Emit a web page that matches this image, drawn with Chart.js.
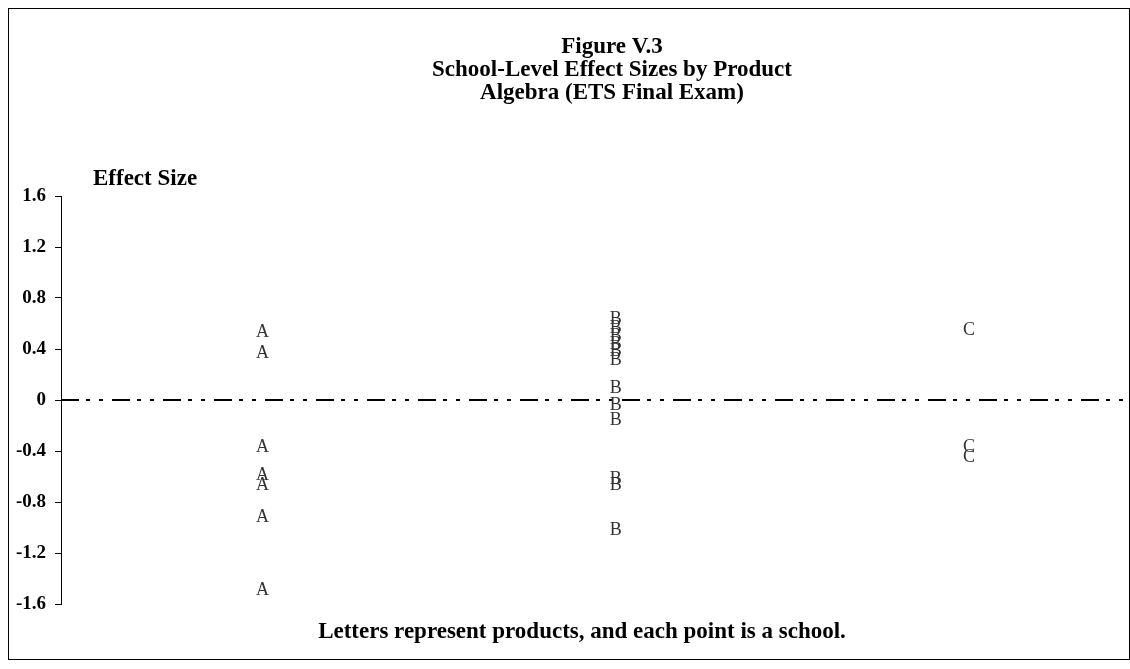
<!DOCTYPE html>
<html>
<head>
<meta charset="utf-8">
<script src="https://cdn.jsdelivr.net/npm/chart.js@4"></script>
<style>
    html, body { margin: 0; padding: 0; background: #fff; }
    #wrap { width: 1130px; height: 669px; }
</style>
</head>
<body>
<div id="wrap"><canvas id="chart" width="1130" height="669"></canvas></div>
<script>
const titleLines = ["Figure V.3", "School-Level Effect Sizes by Product", "Algebra (ETS Final Exam)"];
const yAxisLabel = "Effect Size";
const footNote = "Letters represent products, and each point is a school.";
const products = ["A", "B", "C"];
const productX = [1, 2, 3];
const effectsA = [0.53, 0.37, -0.37, -0.59, -0.67, -0.92, -1.49];
const effectsB = [0.63, 0.56, 0.50, 0.44, 0.38, 0.31, 0.09, -0.04, -0.16, -0.62, -0.67, -1.02];
const effectsC = [0.55, -0.37, -0.45];
const yTicks = [1.6, 1.2, 0.8, 0.4, 0, -0.4, -0.8, -1.2, -1.6];
const xRange = [0.43, 3.45];

const serif = "'Liberation Serif', 'DejaVu Serif', serif";
const effects = [effectsA, effectsB, effectsC];

const letterDatasets = products.map((letter, i) => ({
    type: 'scatter',
    label: letter,
    data: effects[i].map(v => ({ x: productX[i], y: v })),
    pointRadius: 0,
    pointHoverRadius: 0
}));

// draws each school as its product letter at the point position
const letterPlugin = {
    id: 'letters',
    afterDatasetsDraw(chart) {
        const ctx = chart.ctx;
        ctx.save();
        ctx.font = "18px " + serif;
        ctx.fillStyle = "#333";
        ctx.textAlign = "center";
        ctx.textBaseline = "middle";
        chart.data.datasets.forEach((ds, i) => {
            if (!products.includes(ds.label)) return;
            chart.getDatasetMeta(i).data.forEach(pt => {
                ctx.fillText(ds.label, pt.x, pt.y);
            });
        });
        ctx.restore();
    }
};

const textPlugin = {
    id: 'texts',
    beforeDraw(chart) {
        const ctx = chart.ctx;
        ctx.save();
        ctx.fillStyle = "#fff";
        ctx.fillRect(0, 0, chart.width, chart.height);
        ctx.strokeStyle = "#000";
        ctx.lineWidth = 1;
        ctx.strokeRect(8.5, 8.5, 1121, 651);
        ctx.restore();
    },
    afterDraw(chart) {
        const ctx = chart.ctx;
        const yScale = chart.scales.y;
        ctx.save();
        ctx.fillStyle = "#000";
        ctx.textBaseline = "middle";
        ctx.font = "bold 23px " + serif;
        ctx.textAlign = "center";
        titleLines.forEach((line, i) => ctx.fillText(line, 612, 47 + i * 23));
        ctx.textAlign = "left";
        ctx.fillText(yAxisLabel, 93, yScale.top - 17);
        ctx.textAlign = "center";
        ctx.fillText(footNote, 582, yScale.bottom + 28);
        ctx.restore();
    }
};

new Chart(document.getElementById("chart"), {
    data: {
        datasets: [
            {
                type: 'line',
                label: 'zero',
                data: [{ x: xRange[0], y: 0 }, { x: xRange[1], y: 0 }],
                borderColor: '#000',
                borderWidth: 2,
                borderDash: [18, 7, 4, 9, 4, 9],
                pointRadius: 0,
                fill: false
            },
            ...letterDatasets
        ]
    },
    options: {
        responsive: false,
        animation: false,
        layout: { padding: { left: 10, right: 2, top: 196, bottom: 65 } },
        plugins: {
            legend: { display: false },
            tooltip: { enabled: false },
            title: { display: false }
        },
        scales: {
            x: {
                type: 'linear',
                display: false,
                min: xRange[0],
                max: xRange[1]
            },
            y: {
                type: 'linear',
                min: -1.6,
                max: 1.6,
                afterFit: (scale) => { scale.width = 51; },
                afterBuildTicks: (scale) => { scale.ticks = yTicks.map(v => ({ value: v })); },
                ticks: {
                    padding: 9,
                    color: '#000',
                    font: { family: serif, size: 19, weight: 'bold' },
                    callback: (v) => String(Math.round(v * 10) / 10)
                },
                grid: {
                    drawOnChartArea: false,
                    drawTicks: true,
                    tickLength: 6,
                    color: '#000',
                    lineWidth: 1
                },
                border: { display: true, color: '#000', width: 1 }
            }
        }
    },
    plugins: [letterPlugin, textPlugin]
});
</script>
</body>
</html>
